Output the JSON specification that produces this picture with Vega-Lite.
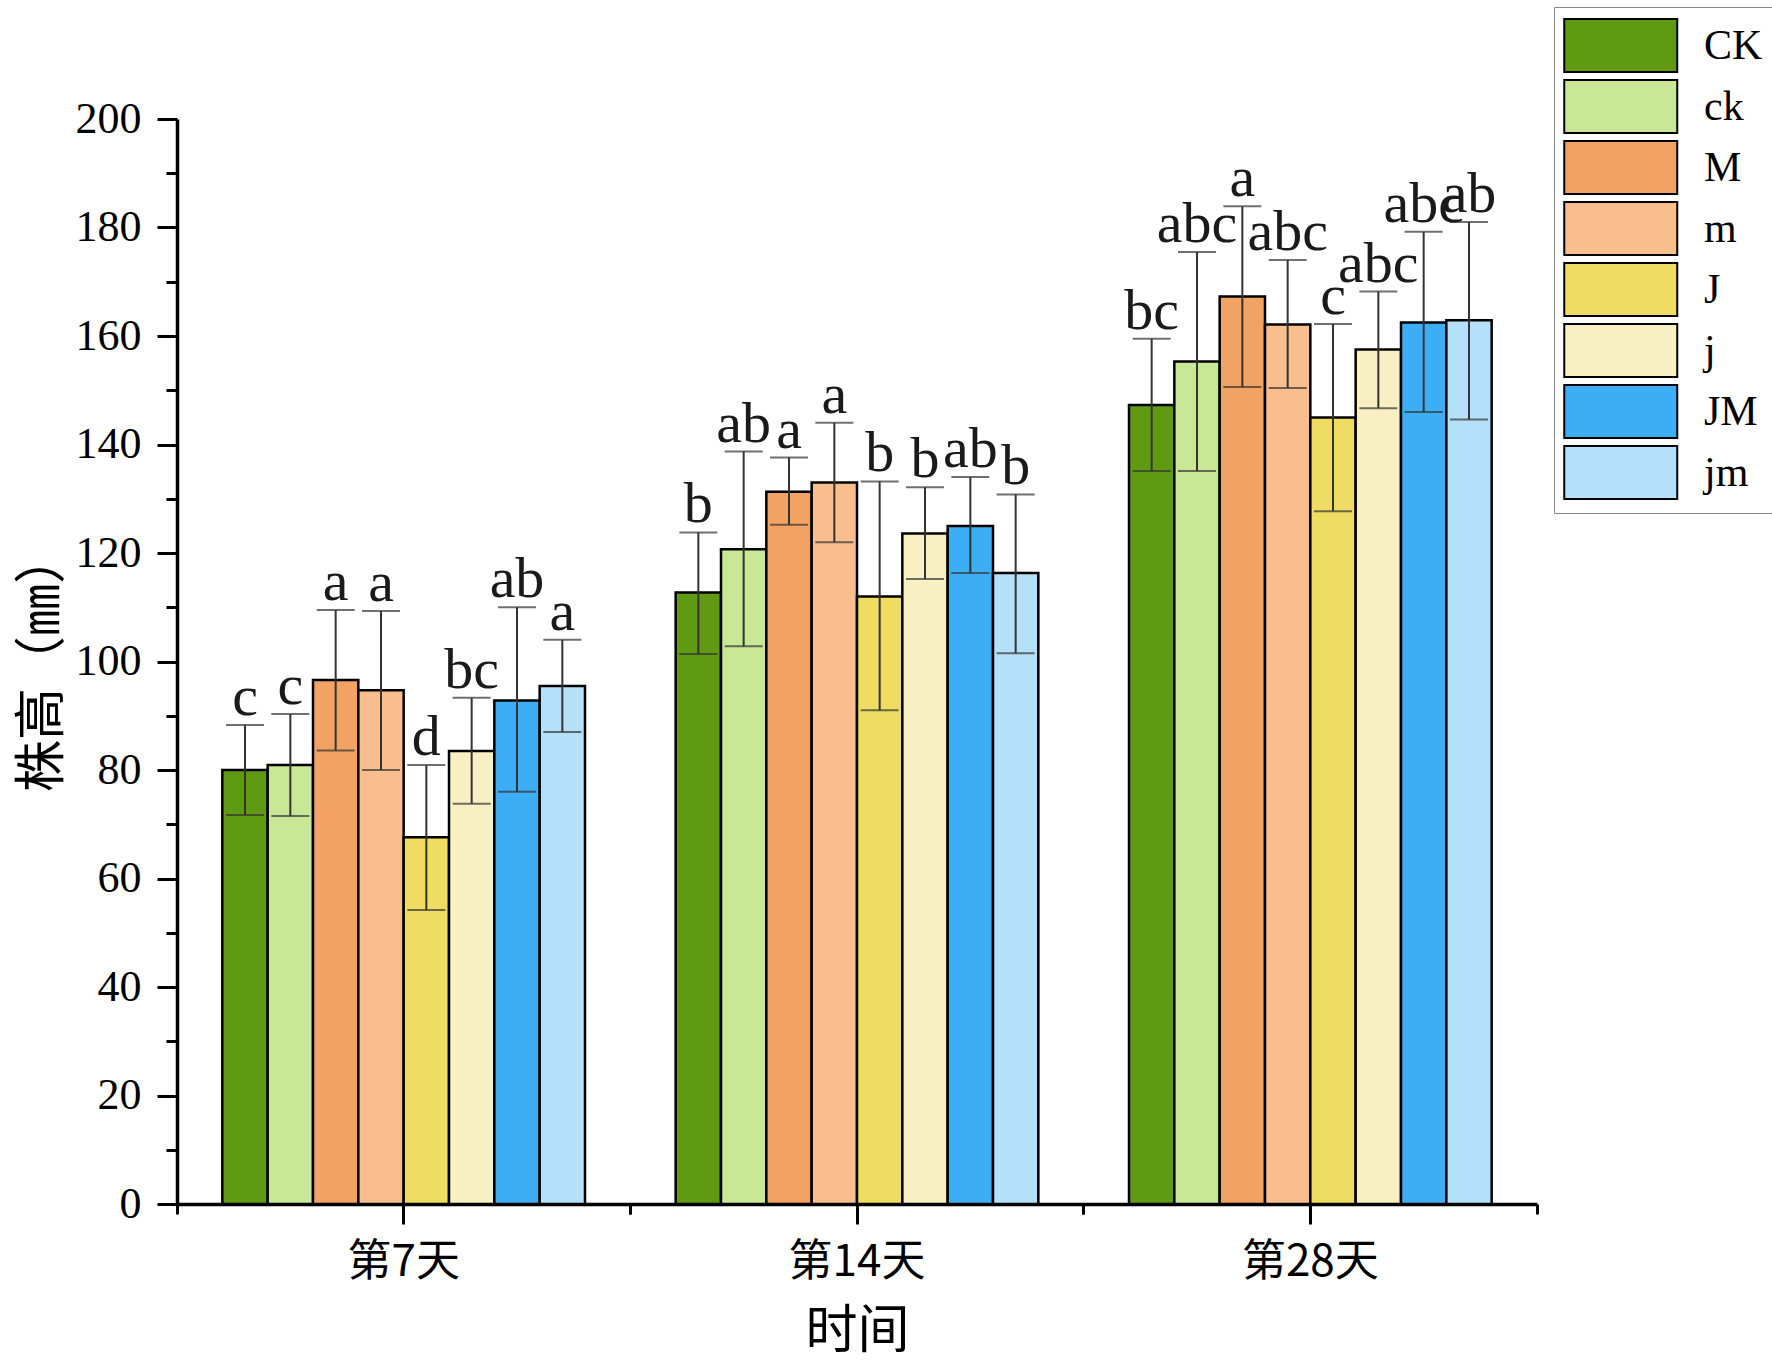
{
  "$schema": "https://vega.github.io/schema/vega-lite/v6.json",
  "autosize": {"type": "none"},
  "width": 1360,
  "height": 1085,
  "padding": {"left": 177, "top": 119, "right": 235, "bottom": 157},
  "background": "white",
  "config": {
    "view": {"stroke": null},
    "axis": {"grid": false, "domainColor": "black", "tickColor": "black", "labelColor": "black", "titleColor": "black"}
  },
  "data": {
    "values": [
      {"day": "第7天", "group": "CK", "mean": 80.0, "lo": 71.7, "hi": 88.3, "label": "c"},
      {"day": "第7天", "group": "ck", "mean": 80.9, "lo": 71.5, "hi": 90.3, "label": "c"},
      {"day": "第7天", "group": "M", "mean": 96.6, "lo": 83.6, "hi": 109.5, "label": "a"},
      {"day": "第7天", "group": "m", "mean": 94.7, "lo": 80.0, "hi": 109.3, "label": "a"},
      {"day": "第7天", "group": "J", "mean": 67.6, "lo": 54.2, "hi": 80.9, "label": "d"},
      {"day": "第7天", "group": "j", "mean": 83.5, "lo": 73.8, "hi": 93.3, "label": "bc"},
      {"day": "第7天", "group": "JM", "mean": 92.8, "lo": 76.0, "hi": 110.0, "label": "ab"},
      {"day": "第7天", "group": "jm", "mean": 95.5, "lo": 87.0, "hi": 104.0, "label": "a"},
      {"day": "第14天", "group": "CK", "mean": 112.7, "lo": 101.4, "hi": 123.8, "label": "b"},
      {"day": "第14天", "group": "ck", "mean": 120.7, "lo": 102.8, "hi": 138.7, "label": "ab"},
      {"day": "第14天", "group": "M", "mean": 131.3, "lo": 125.2, "hi": 137.6, "label": "a"},
      {"day": "第14天", "group": "m", "mean": 133.0, "lo": 122.0, "hi": 144.0, "label": "a"},
      {"day": "第14天", "group": "J", "mean": 112.0, "lo": 91.0, "hi": 133.2, "label": "b"},
      {"day": "第14天", "group": "j", "mean": 123.6, "lo": 115.2, "hi": 132.1, "label": "b"},
      {"day": "第14天", "group": "JM", "mean": 125.0, "lo": 116.3, "hi": 134.0, "label": "ab"},
      {"day": "第14天", "group": "jm", "mean": 116.3, "lo": 101.5, "hi": 130.8, "label": "b"},
      {"day": "第28天", "group": "CK", "mean": 147.3, "lo": 135.1, "hi": 159.5, "label": "bc"},
      {"day": "第28天", "group": "ck", "mean": 155.3, "lo": 135.1, "hi": 175.5, "label": "abc"},
      {"day": "第28天", "group": "M", "mean": 167.3, "lo": 150.6, "hi": 183.9, "label": "a"},
      {"day": "第28天", "group": "m", "mean": 162.1, "lo": 150.4, "hi": 174.0, "label": "abc"},
      {"day": "第28天", "group": "J", "mean": 145.0, "lo": 127.7, "hi": 162.2, "label": "c"},
      {"day": "第28天", "group": "j", "mean": 157.5, "lo": 146.7, "hi": 168.2, "label": "abc"},
      {"day": "第28天", "group": "JM", "mean": 162.5, "lo": 146.0, "hi": 179.2, "label": "abc"},
      {"day": "第28天", "group": "jm", "mean": 162.9, "lo": 144.6, "hi": 181.0, "label": "ab"}
    ]
  },
  "encoding": {
    "x": {"field": "day", "type": "nominal", "sort": ["第7天", "第14天", "第28天"], "axis": null,
          "scale": {"domain": ["第7天", "第14天", "第28天"], "paddingInner": 0.2, "paddingOuter": 0.1}},
    "xOffset": {"field": "group", "type": "nominal",
                "scale": {"domain": ["CK", "ck", "M", "m", "J", "j", "JM", "jm"], "paddingInner": 0, "paddingOuter": 0}}
  },
  "layer": [
    {
      "mark": {"type": "bar", "stroke": "black", "strokeWidth": 2.5, "opacity": 1},
      "encoding": {
        "x": {"field": "day", "type": "nominal", "sort": ["第7天", "第14天", "第28天"],
              "axis": {"orient": "bottom", "title": "时间", "titleFont": "Noto Sans CJK SC", "titleFontSize": 52, "titleFontWeight": "normal", "titlePadding": 22,
                       "labelFont": "Noto Sans CJK SC", "labelFontSize": 44, "labelAngle": 0, "labelPadding": 16,
                       "tickSize": 20, "tickWidth": 3, "domainWidth": 3.5}},
        "y": {"field": "mean", "type": "quantitative",
              "scale": {"domain": [0, 200], "nice": false, "zero": true},
              "axis": {"orient": "left", "title": "株高（㎜）", "titleFont": "Noto Sans CJK SC", "titleFontSize": 52, "titleFontWeight": "normal", "titlePadding": 6,
                       "values": [0, 20, 40, 60, 80, 100, 120, 140, 160, 180, 200],
                       "labelFont": "Liberation Serif", "labelFontSize": 44, "labelPadding": 16,
                       "tickSize": 20, "tickWidth": 3, "domainWidth": 3.5}},
        "color": {"field": "group", "type": "nominal",
                  "scale": {"domain": ["CK", "ck", "M", "m", "J", "j", "JM", "jm"],
                            "range": ["#5F9A12", "#C8E896", "#F2A262", "#F8BE8E", "#EEDD62", "#F8F0C2", "#3DAEF6", "#B4E0FA"]},
                  "legend": {"orient": "none", "legendX": 1377, "legendY": -112, "title": null,
                             "symbolType": "M-1,-0.94H3V0.94H-1Z", "symbolSize": 3192,
                             "symbolStrokeColor": "black", "symbolStrokeWidth": 2, "symbolOpacity": 1,
                             "labelFont": "Liberation Serif", "labelFontSize": 42, "labelColor": "black", "labelOffset": 82,
                             "padding": 9, "strokeColor": "#888888", "fillColor": "white", "rowPadding": -2.5}}
      }
    },
    {
      "mark": {"type": "rule", "color": "#333333", "strokeWidth": 2},
      "encoding": {
        "x": {"field": "day", "type": "nominal", "sort": ["第7天", "第14天", "第28天"],
              "axis": {"orient": "bottom", "title": null, "labels": false, "bandPosition": -0.125, "tickSize": 10, "tickWidth": 3, "domain": false}},
        "y": {"field": "lo", "type": "quantitative",
              "axis": {"orient": "left", "title": null, "labels": false, "values": [10, 30, 50, 70, 90, 110, 130, 150, 170, 190], "tickSize": 11, "tickWidth": 3, "domain": false}},
        "y2": {"field": "hi"}
      }
    },
    {
      "mark": {"type": "tick", "color": "#333333", "thickness": 2, "size": 38},
      "encoding": {
        "x": {"field": "day", "type": "nominal", "sort": ["第7天", "第14天", "第28天"],
              "axis": {"orient": "bottom", "title": null, "labels": false, "bandPosition": 1.125, "tickSize": 10, "tickWidth": 3, "domain": false}},
        "y": {"field": "lo", "type": "quantitative", "axis": null}
      }
    },
    {
      "mark": {"type": "tick", "color": "#333333", "thickness": 2, "size": 38},
      "encoding": {
        "y": {"field": "hi", "type": "quantitative", "axis": null}
      }
    },
    {
      "mark": {"type": "text", "font": "Liberation Serif", "fontSize": 58, "color": "#1a1a1a", "baseline": "alphabetic", "dy": -10},
      "encoding": {
        "y": {"field": "hi", "type": "quantitative", "axis": null},
        "text": {"field": "label"}
      }
    }
  ],
  "resolve": {"axis": {"x": "independent", "y": "independent"}}
}
